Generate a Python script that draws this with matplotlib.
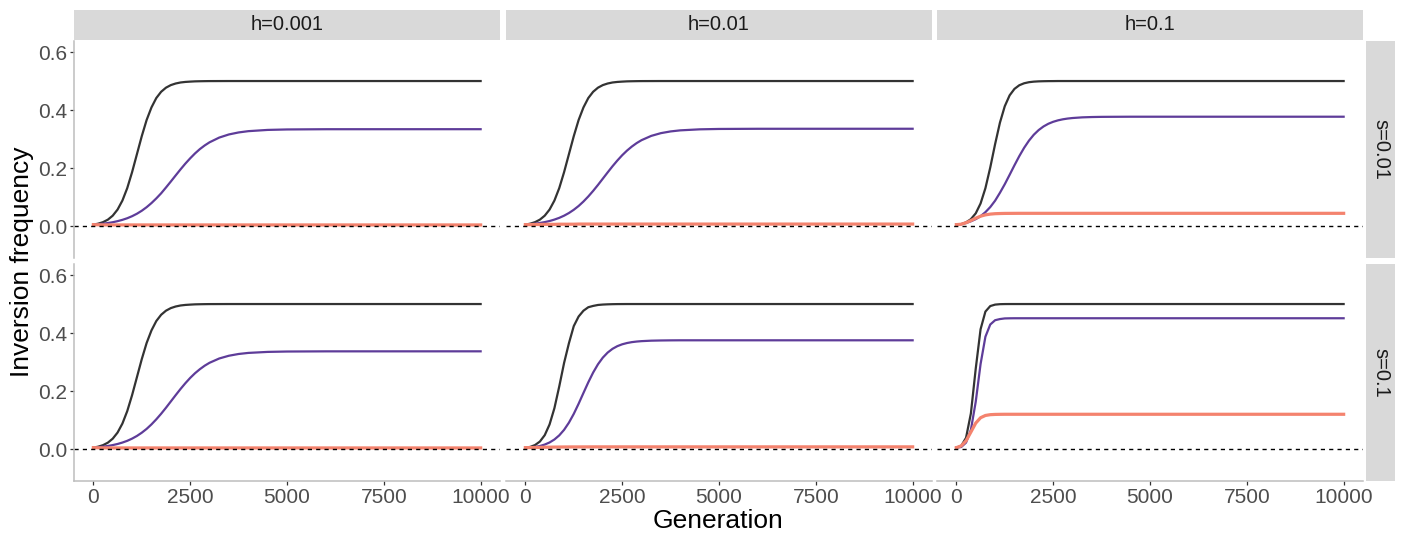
import matplotlib
matplotlib.use("Agg")
import matplotlib.pyplot as plt

plt.rcParams["font.family"] = ["Liberation Sans", "DejaVu Sans"]

generation = [0, 125, 250, 375, 500, 625, 750, 875, 1000, 1125, 1250, 1375, 1500, 1625, 1750, 1875,
              2000, 2125, 2250, 2375, 2500, 2625, 2750, 2875, 3000, 3250, 3500, 3750, 4000, 4500, 5000,
              6000, 10000]

h_values = ["h=0.001", "h=0.01", "h=0.1"]
s_values = ["s=0.01", "s=0.1"]

# ---- s=0.01 ----
dark_s001_h0001 = [0.005, 0.0083, 0.0136, 0.0222, 0.0359, 0.057, 0.088, 0.131, 0.186, 0.248, 0.310, 0.3656,
                   0.409, 0.4414, 0.463, 0.4771, 0.486, 0.4915, 0.495, 0.4969, 0.498, 0.4989, 0.4993, 0.4996,
                   0.4998, 0.4999, 0.5, 0.5, 0.5, 0.5, 0.5, 0.5, 0.5]
purple_s001_h0001 = [0.005, 0.0064, 0.0082, 0.0105, 0.0133, 0.017, 0.0215, 0.0271, 0.0341, 0.0426, 0.0529,
                     0.0651, 0.0793, 0.0954, 0.113, 0.133, 0.1536, 0.1746, 0.1954, 0.2153, 0.2336, 0.2505,
                     0.2654, 0.278, 0.2888, 0.3051, 0.3159, 0.3228, 0.3272, 0.3315, 0.3331, 0.3339, 0.334]
salmon_s001_h0001 = [0.005, 0.0045, 0.0042, 0.0041, 0.004, 0.004, 0.004, 0.004, 0.004, 0.004, 0.004, 0.004,
                     0.004, 0.004, 0.004, 0.004, 0.004, 0.004, 0.004, 0.004, 0.004, 0.004, 0.004, 0.004,
                     0.004, 0.004, 0.004, 0.004, 0.004, 0.004, 0.004, 0.004, 0.004]

dark_s001_h001 = [0.005, 0.0083, 0.0136, 0.0222, 0.0359, 0.057, 0.088, 0.131, 0.186, 0.248, 0.310, 0.3656,
                  0.409, 0.4414, 0.463, 0.4771, 0.486, 0.4915, 0.495, 0.4969, 0.498, 0.4989, 0.4993, 0.4996,
                  0.4998, 0.4999, 0.5, 0.5, 0.5, 0.5, 0.5, 0.5, 0.5]
purple_s001_h001 = [0.005, 0.0065, 0.0083, 0.0107, 0.0137, 0.0175, 0.0224, 0.0284, 0.0359, 0.0451, 0.0562,
                    0.0693, 0.0847, 0.1021, 0.1213, 0.1419, 0.1635, 0.1851, 0.2062, 0.226, 0.2442, 0.2603,
                    0.2742, 0.2862, 0.2962, 0.3109, 0.3204, 0.3263, 0.33, 0.3335, 0.3348, 0.3354, 0.3355]
salmon_s001_h001 = [0.005, 0.005, 0.0055, 0.0055, 0.006, 0.006, 0.006, 0.0065, 0.0065, 0.0065, 0.0065, 0.007,
                    0.007, 0.007, 0.007, 0.007, 0.007, 0.007, 0.007, 0.007, 0.007, 0.007, 0.007, 0.007,
                    0.007, 0.007, 0.007, 0.007, 0.007, 0.007, 0.007, 0.007, 0.007]

dark_s001_h01 = [0.005, 0.0068, 0.0128, 0.0239, 0.0439, 0.0779, 0.1306, 0.2019, 0.2823, 0.3565, 0.4132,
                 0.4506, 0.4729, 0.4855, 0.4923, 0.496, 0.4979, 0.4989, 0.4994, 0.4997, 0.4998, 0.5, 0.5,
                 0.5, 0.5, 0.5, 0.5, 0.5, 0.5, 0.5, 0.5, 0.5, 0.5]
purple_s001_h01 = [0.005, 0.0065, 0.0105, 0.0165, 0.024, 0.034, 0.048, 0.0655, 0.0875, 0.1148, 0.1444,
                   0.1767, 0.2096, 0.2412, 0.2699, 0.2946, 0.315, 0.331, 0.3434, 0.3527, 0.3595, 0.3645,
                   0.3681, 0.3707, 0.3725, 0.3748, 0.3759, 0.3765, 0.3767, 0.377, 0.377, 0.377, 0.377]
salmon_s001_h01 = [0.005, 0.0064, 0.0117, 0.019, 0.0272, 0.0341, 0.0387, 0.0413, 0.0427, 0.0433, 0.0437,
                   0.0438, 0.0439, 0.044, 0.044, 0.044, 0.044, 0.044, 0.044, 0.044, 0.044, 0.044, 0.044,
                   0.044, 0.044, 0.044, 0.044, 0.044, 0.044, 0.044, 0.044, 0.044, 0.044]

# ---- s=0.1 ----
dark_s01_h0001 = [0.005, 0.0083, 0.0136, 0.0222, 0.0359, 0.057, 0.088, 0.131, 0.186, 0.248, 0.310, 0.3656,
                  0.409, 0.4414, 0.463, 0.4771, 0.486, 0.4915, 0.495, 0.4969, 0.498, 0.4989, 0.4993, 0.4996,
                  0.4998, 0.4999, 0.5, 0.5, 0.5, 0.5, 0.5, 0.5, 0.5]
purple_s01_h0001 = [0.005, 0.0065, 0.0083, 0.0107, 0.0138, 0.0176, 0.0225, 0.0285, 0.0361, 0.0453, 0.0565,
                    0.0696, 0.0851, 0.1026, 0.1218, 0.1425, 0.1642, 0.1859, 0.2071, 0.227, 0.2453, 0.2615,
                    0.2754, 0.2875, 0.2975, 0.3123, 0.3218, 0.3278, 0.3315, 0.335, 0.3363, 0.3369, 0.337]
salmon_s01_h0001 = [0.005, 0.0045, 0.0042, 0.0041, 0.004, 0.004, 0.004, 0.004, 0.004, 0.004, 0.004, 0.004,
                    0.004, 0.004, 0.004, 0.004, 0.004, 0.004, 0.004, 0.004, 0.004, 0.004, 0.004, 0.004,
                    0.004, 0.004, 0.004, 0.004, 0.004, 0.004, 0.004, 0.004, 0.004]

dark_s01_h001 = [0.005, 0.0075, 0.014, 0.026, 0.048, 0.085, 0.141, 0.216, 0.297, 0.365, 0.424, 0.457,
                 0.477, 0.489, 0.4935, 0.4968, 0.4982, 0.499, 0.4995, 0.4998, 0.4999, 0.5, 0.5, 0.5,
                 0.5, 0.5, 0.5, 0.5, 0.5, 0.5, 0.5, 0.5, 0.5]
purple_s01_h001 = [0.005, 0.006, 0.0075, 0.0106, 0.0156, 0.0228, 0.0331, 0.0473, 0.0664, 0.0912, 0.1214,
                   0.1563, 0.1935, 0.2302, 0.2638, 0.2924, 0.3153, 0.3327, 0.3456, 0.3548, 0.3612, 0.3656,
                   0.3687, 0.3707, 0.3721, 0.3737, 0.3744, 0.3748, 0.375, 0.375, 0.375, 0.375, 0.375]
salmon_s01_h001 = [0.005, 0.0052, 0.0055, 0.006, 0.0063, 0.0066, 0.0069, 0.0071, 0.0073, 0.0074, 0.0075,
                   0.0075, 0.0076, 0.0076, 0.0077, 0.0077, 0.0077, 0.0077, 0.0077, 0.0077, 0.0077, 0.0077,
                   0.0077, 0.0077, 0.0077, 0.0077, 0.0077, 0.0077, 0.0077, 0.0077, 0.0077, 0.0077, 0.0077]

dark_s01_h01 = [0.005, 0.011, 0.039, 0.123, 0.277, 0.413, 0.474, 0.493, 0.498, 0.4995, 0.4999, 0.5,
                0.5, 0.5, 0.5, 0.5, 0.5, 0.5, 0.5, 0.5, 0.5, 0.5, 0.5, 0.5,
                0.5, 0.5, 0.5, 0.5, 0.5, 0.5, 0.5, 0.5, 0.5]
purple_s01_h01 = [0.005, 0.0071, 0.0225, 0.0663, 0.163, 0.293, 0.3873, 0.4294, 0.4442, 0.4482, 0.4504, 0.4508,
                  0.451, 0.451, 0.451, 0.451, 0.451, 0.451, 0.451, 0.451, 0.451, 0.451, 0.451, 0.451,
                  0.451, 0.451, 0.451, 0.451, 0.451, 0.451, 0.451, 0.451, 0.451]
salmon_s01_h01 = [0.005, 0.011, 0.0284, 0.0587, 0.0896, 0.1081, 0.1159, 0.1186, 0.1195, 0.1198, 0.12, 0.12,
                  0.12, 0.12, 0.12, 0.12, 0.12, 0.12, 0.12, 0.12, 0.12, 0.12, 0.12, 0.12,
                  0.12, 0.12, 0.12, 0.12, 0.12, 0.12, 0.12, 0.12, 0.12]

panels = [
    [(dark_s001_h0001, purple_s001_h0001, salmon_s001_h0001),
     (dark_s001_h001, purple_s001_h001, salmon_s001_h001),
     (dark_s001_h01, purple_s001_h01, salmon_s001_h01)],
    [(dark_s01_h0001, purple_s01_h0001, salmon_s01_h0001),
     (dark_s01_h001, purple_s01_h001, salmon_s01_h001),
     (dark_s01_h01, purple_s01_h01, salmon_s01_h01)],
]

colors = ["#333333", "#5E3C99", "#F4836E"]
widths = [1.6, 1.6, 2.3]

W, H = 1408, 539
fig = plt.figure(figsize=(W / 100, H / 100), dpi=100)


def box(x0, y0, w, h):
    # pixel box (top-left origin) -> figure fraction
    return [x0 / W, 1 - (y0 + h) / H, w / W, h / H]


col_left = [74, 506, 937]
col_w = 426
row_top = [41, 264]
row_h = 217
strip_gray = "#D9D9D9"
axis_gray = "#BDBDBD"
text_gray = "#4D4D4D"

for r in range(2):
    for c in range(3):
        ax = fig.add_axes(box(col_left[c], row_top[r], col_w, row_h))
        for ys, col, lw in zip(panels[r][c], colors, widths):
            ax.plot(generation, ys, color=col, lw=lw, solid_joinstyle="round")
        ax.axhline(0, color="black", lw=1.0, ls=(0, (3, 3)))
        ax.set_xlim(-500, 10500)
        ax.set_ylim(-0.11, 0.638)
        for sp in ax.spines.values():
            sp.set_visible(False)
        ax.set_xticks([0, 2500, 5000, 7500, 10000])
        ax.set_yticks([0.0, 0.2, 0.4, 0.6])
        ax.tick_params(colors="#333333", labelcolor=text_gray, labelsize=15,
                       length=3, width=0.9, pad=2)
        if c == 0:
            ax.spines["left"].set_visible(True)
            ax.spines["left"].set_color(axis_gray)
            ax.spines["left"].set_linewidth(1.1)
        else:
            ax.tick_params(axis="y", left=False, labelleft=False)
        if r == 1:
            ax.spines["bottom"].set_visible(True)
            ax.spines["bottom"].set_color(axis_gray)
            ax.spines["bottom"].set_linewidth(1.1)
        else:
            ax.tick_params(axis="x", bottom=False, labelbottom=False)

# facet strips on top (h) and right (s)
for c, lab in enumerate(h_values):
    sx = fig.add_axes(box(col_left[c], 10, col_w, 30))
    sx.set_facecolor(strip_gray)
    sx.set_xticks([]); sx.set_yticks([])
    for sp in sx.spines.values():
        sp.set_visible(False)
    sx.text(0.5, 0.5, lab, ha="center", va="center", fontsize=14.5, color="#1A1A1A",
            transform=sx.transAxes)

for r, lab in enumerate(s_values):
    sx = fig.add_axes(box(1366, row_top[r], 29, row_h))
    sx.set_facecolor(strip_gray)
    sx.set_xticks([]); sx.set_yticks([])
    for sp in sx.spines.values():
        sp.set_visible(False)
    sx.text(0.5, 0.5, lab, ha="center", va="center", fontsize=14.5, color="#1A1A1A",
            rotation=-90, transform=sx.transAxes)

fig.text(718 / W, 1 - 521 / H, "Generation", ha="center", va="center", fontsize=19)
fig.text(22 / W, 1 - 262 / H, "Inversion frequency", ha="center", va="center",
         fontsize=19, rotation=90)

fig.savefig("out.png", dpi=100)
